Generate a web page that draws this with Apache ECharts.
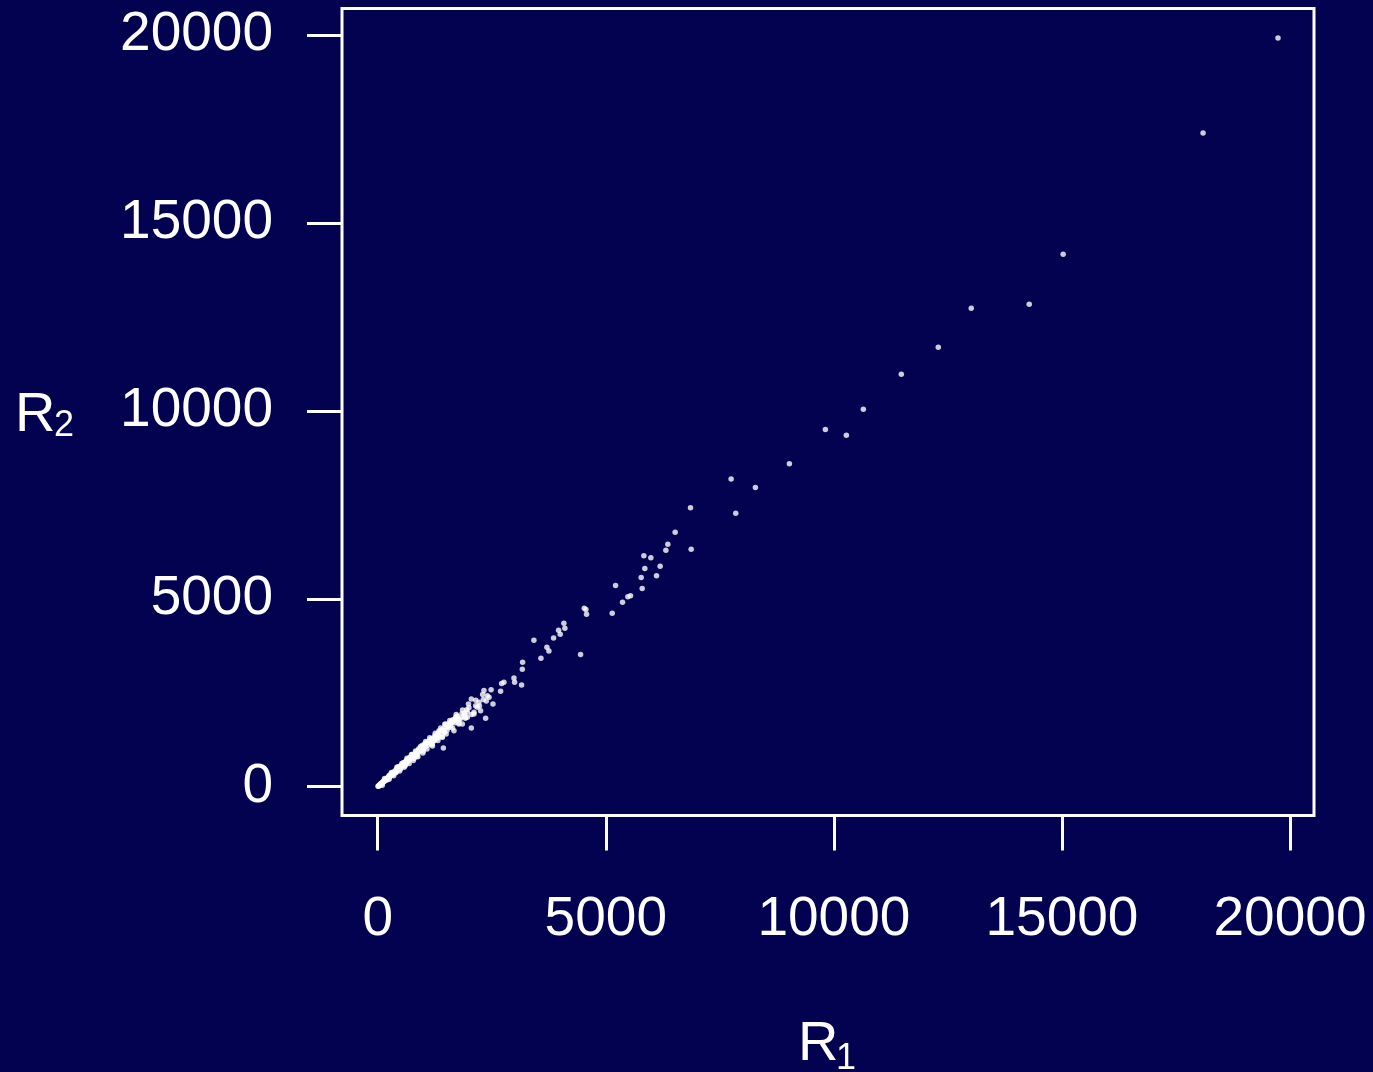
<!DOCTYPE html>
<html>
<head>
<meta charset="utf-8">
<script src="https://cdn.jsdelivr.net/npm/echarts@6/dist/echarts.min.js"></script>
<style>
html,body{margin:0;padding:0;background:#020250;}
#chart{width:1373px;height:1072px;}
</style>
</head>
<body>
<div id="chart"></div>
<script>
// Tick values for both axes
const tickValues = [0, 5000, 10000, 15000, 20000];
const xAxisTitle = 'R';
const xAxisSub = '1';
const yAxisTitle = 'R';
const yAxisSub = '2';

// Sparse points [R1, R2]
const sparsePoints = [
  [19737,19920],[18094,17390],[15027,14168],[14283,12836],[13012,12730],[12289,11691],
  [11479,10972],[10646,10040],[10274,9348],[9814,9507],[9025,8594],[7748,8184],
  [8280,7963],[6857,7422],[7849,7278],[6872,6320],[6521,6772],[6360,6453],[6317,6293],
  [5834,6144],[5988,6091],[5856,5806],[6192,5867],[5776,5566],[6112,5611],[5798,5273],
  [5214,5353],[5367,4908],[5484,5051],[5542,5078],[5141,4615],[4528,4749],[4564,4714],
  [4578,4589],[4081,4350],[4103,4217],[3965,4164],[4001,4057],[3855,3959],[3424,3897],
  [3709,3711],[3753,3613],[3578,3418],[4447,3515],[3176,3311],[3170,3124],[2987,2894],
  [3001,2778],[3154,2707],[2767,2778],[2716,2743],[2694,2539],[2486,2583],[2329,2557],
  [2402,2423],[2527,2198],[2440,2379],[2315,2317],[2219,2245],[2052,2335],[2147,2157],
  [2256,2024],[2184,2113],[2366,1819],[2052,1562],[2110,1935],[1965,1979],[1892,1891],
  [1818,1829],[1709,1758],[1599,1686],[1526,1579],[1453,1491],[1417,1313],[1439,1030],
  [1672,1491],[1781,1669],[1928,1847],[2110,1979],[1965,1847],[1709,1847],[1636,1714],
  [1563,1579],[1490,1669],[1453,1447],[1344,1491],[1271,1358],[1235,1225],[1855,1669]
];

// Dense cluster near the origin [R1, R2]
const densePoints = [
  [8,12],[15,10],[22,28],[30,27],[38,45],[45,40],[52,60],[60,70],[68,66],[75,85],
  [85,88],[92,104],[100,98],[110,125],[118,120],[125,140],[135,138],[142,160],[150,152],
  [160,178],[170,175],[178,198],[185,190],[195,215],[205,210],[212,235],[220,226],
  [230,255],[240,248],[250,275],[258,262],[265,295],[275,285],[285,312],[295,300],
  [305,335],[315,322],[322,356],[330,338],[340,375],[350,360],[362,398],[372,380],
  [380,420],[392,400],[405,448],[415,425],[425,470],[438,450],[450,495],[462,475],
  [475,522],[488,500],[500,548],[512,525],[525,575],[540,552],[552,605],[565,580],
  [580,635],[595,610],[610,668],[625,640],[640,700],[655,668],[670,735],[688,702],
  [705,770],[720,735],[738,805],[755,770],[772,842],[790,805],[810,880],[828,842],
  [848,925],[868,880],[890,968],[910,925],[932,1015],[955,968],[978,1062],[1000,1015],
  [1025,1115],[1050,1060],[1075,1165],[1100,1110],[1128,1225],[1155,1165],[1185,1285],
  [1215,1220],[1248,1350],[1280,1290],[1315,1420],[1350,1360],[1390,1500],
  [200,180],[400,370],[600,560],[800,760],[1000,950],[700,780],[900,1010],[1150,1250],
  [1200,1150],[500,470],[300,340],[650,720],[1100,1200],[1250,1250],[1300,1380],
  [1350,1450],[1420,1520],[1480,1600],[1520,1500],[1560,1680],[1600,1620],[1650,1780],
  [1700,1700],[1750,1880],[1800,1790],[1850,1950],[1900,1950],[1950,2050],[2000,2100],
  [1620,1750],[1700,1800],[250,300],[450,530],[620,600],[760,860],[860,820],[1040,1150],
  [1180,1120],[1330,1300],[560,640],[980,1100],[1460,1450],[1540,1640],
  [100,40],[150,220],[250,200],[300,380],[350,290],[420,520],[480,420],[530,620],
  [580,520],[640,760],[690,620],[740,860],[780,700],[830,950],[880,800],[940,1070],
  [990,900],[1050,1200],[1080,1000],[1140,1300],[1200,1080],[1260,1420],[1320,1230],
  [1380,1560],[1410,1330],[1470,1660],[1500,1400],[1580,1760],[1640,1560],[1720,1920],
  [1780,1700],[1860,2040],[1920,1820],[1990,2200],[2060,1920],[2150,2300],[2230,2150],
  [2300,2450],[2380,2280]
];

const chart = echarts.init(document.getElementById('chart'), null, {renderer: 'canvas'});
const FONT = '"Liberation Sans", Arial, Helvetica, sans-serif';
const WHITE = '#ffffff';

const option = {
  backgroundColor: '#020250',
  animation: false,
  grid: {
    left: 342, right: 59, top: 8.5, bottom: 256.5,
    show: true, borderColor: WHITE, borderWidth: 3, backgroundColor: 'transparent'
  },
  xAxis: {
    type: 'value', min: -783, max: 20526,
    axisLine: {show: false, onZero: false},
    splitLine: {show: false},
    axisTick: {show: true, inside: false, length: 35, lineStyle: {color: WHITE, width: 3}, customValues: tickValues},
    axisLabel: {show: true, color: WHITE, fontSize: 55, fontFamily: FONT, margin: 77, customValues: tickValues,
      formatter: v => String(v)}
  },
  yAxis: {
    type: 'value', min: -766, max: 20705,
    axisLine: {show: false, onZero: false},
    splitLine: {show: false},
    axisTick: {show: true, inside: false, length: 35, lineStyle: {color: WHITE, width: 3}, customValues: tickValues},
    axisLabel: {show: true, color: WHITE, fontSize: 55, fontFamily: FONT, margin: 69, customValues: tickValues,
      padding: [10, 0, 0, 0], formatter: v => String(v)}
  },
  series: [
    {type: 'scatter', data: densePoints, symbol: 'circle', symbolSize: 5.5, itemStyle: {color: WHITE}, silent: true},
    {type: 'scatter', data: sparsePoints, symbol: 'circle', symbolSize: 5.5, itemStyle: {color: WHITE}, silent: true}
  ],
  graphic: [
    {type: 'text', left: 15, top: 388, style: {text: yAxisTitle, fill: WHITE, fontSize: 56, fontFamily: FONT}},
    {type: 'text', left: 54, top: 408, style: {text: yAxisSub, fill: WHITE, fontSize: 36, fontFamily: FONT}},
    {type: 'text', left: 798, top: 1017, style: {text: xAxisTitle, fill: WHITE, fontSize: 56, fontFamily: FONT}},
    {type: 'text', left: 836, top: 1041, style: {text: xAxisSub, fill: WHITE, fontSize: 36, fontFamily: FONT}}
  ]
};
chart.setOption(option);
</script>
</body>
</html>
